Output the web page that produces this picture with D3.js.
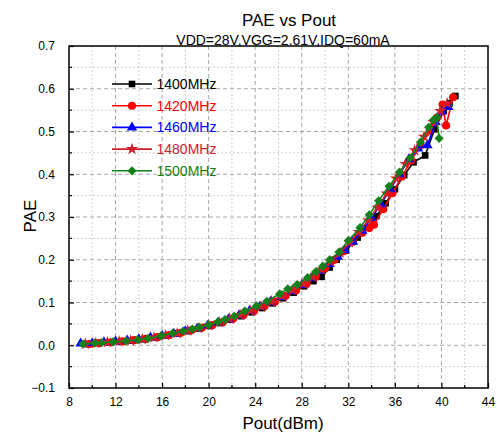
<!DOCTYPE html>
<html><head><meta charset="utf-8">
<script src="https://d3js.org/d3.v7.min.js"></script>
<style>
body{margin:0;background:#fff;}
svg{display:block;font-family:"Liberation Sans",Arial,sans-serif;}
</style></head>
<body><svg id="c" width="497" height="434"></svg>
<script>
const seriesNames = ["1400MHz","1420MHz","1460MHz","1480MHz","1500MHz"];
const seriesColors = ["#000000","#ff0000","#0000ff","#d01e28","#13801a"];
const seriesSymbols = ["square","circle","triangle","star","diamond"];

const x1400 = [9.5,10.5,11.5,12.5,13.5,14.5,15.5,16.5,17.4,18.3,19.2,20.1,21.0,21.9,22.8,23.7,24.6,25.5,26.4,27.3,28.2,29.0,29.7,30.4,31.0,31.8,32.8,33.6,34.4,35.2,36.0,36.8,37.6,38.6,39.4,40.2,40.7,41.2];
const y1400 = [0.003,0.005,0.007,0.009,0.011,0.014,0.018,0.023,0.028,0.033,0.039,0.045,0.052,0.060,0.068,0.077,0.087,0.098,0.110,0.123,0.138,0.150,0.160,0.182,0.200,0.222,0.252,0.275,0.302,0.332,0.365,0.398,0.428,0.444,0.505,0.548,0.566,0.583];

const x1420 = [9.8,10.6,11.6,12.6,13.6,14.6,15.6,16.6,17.6,18.5,19.4,20.3,21.2,22.1,23.0,23.9,24.8,25.7,26.6,27.5,28.4,29.2,30.0,30.8,31.6,32.4,33.2,33.8,34.2,35.0,35.8,36.6,37.4,38.2,39.0,39.6,40.1,40.4,41.0];
const y1420 = [0.003,0.005,0.007,0.009,0.012,0.015,0.019,0.024,0.029,0.035,0.041,0.047,0.054,0.062,0.071,0.080,0.091,0.102,0.115,0.128,0.143,0.160,0.180,0.200,0.220,0.242,0.263,0.274,0.282,0.318,0.356,0.395,0.432,0.468,0.502,0.532,0.563,0.514,0.580];

const x1460 = [9.0,10.0,11.0,12.0,13.0,14.0,15.0,16.0,17.0,18.0,19.0,19.9,20.8,21.7,22.6,23.5,24.4,25.3,26.2,27.1,28.0,28.8,29.6,30.4,31.1,31.7,32.4,33.2,34.0,34.8,35.6,36.4,37.2,38.0,38.8,39.5,40.0,40.6];
const y1460 = [0.004,0.005,0.007,0.009,0.011,0.014,0.018,0.022,0.027,0.033,0.039,0.046,0.053,0.061,0.070,0.080,0.090,0.101,0.113,0.126,0.141,0.157,0.174,0.190,0.207,0.222,0.242,0.268,0.298,0.330,0.365,0.400,0.435,0.460,0.468,0.522,0.547,0.557];

const x1480 = [9.4,10.3,11.3,12.3,13.3,14.3,15.3,16.3,17.3,18.2,19.1,20.0,20.9,21.8,22.7,23.6,24.5,25.4,26.3,27.2,28.1,28.9,29.7,30.5,31.3,32.1,32.9,33.7,34.5,35.3,36.1,36.9,37.7,38.5,39.3,39.9,40.5];
const y1480 = [0.003,0.005,0.007,0.009,0.011,0.014,0.018,0.023,0.028,0.034,0.040,0.047,0.054,0.062,0.071,0.081,0.091,0.103,0.115,0.129,0.144,0.160,0.177,0.195,0.216,0.240,0.265,0.292,0.322,0.355,0.390,0.424,0.456,0.488,0.522,0.548,0.566];

const x1500 = [9.2,10.2,10.8,11.8,12.9,13.9,14.8,15.9,16.9,17.8,18.6,19.2,20.0,20.8,21.4,22.2,23.1,24.1,25.0,26.1,26.8,27.6,28.5,29.2,29.8,30.4,31.2,32.0,33.0,33.8,34.6,35.5,36.4,37.3,38.2,38.9,39.3,39.6,39.8];
const y1500 = [0.003,0.005,0.006,0.008,0.010,0.013,0.016,0.022,0.028,0.033,0.038,0.042,0.048,0.055,0.060,0.068,0.080,0.092,0.103,0.120,0.132,0.142,0.158,0.172,0.185,0.200,0.218,0.245,0.275,0.305,0.338,0.372,0.405,0.438,0.475,0.510,0.527,0.533,0.484];

const xTicks = [8,12,16,20,24,28,32,36,40,44];
const yTicks = [-0.1,0.0,0.1,0.2,0.3,0.4,0.5,0.6,0.7];

const title = "PAE vs Pout";
const subtitle = "VDD=28V,VGG=2.61V,IDQ=60mA";
const xTitle = "Pout(dBm)";
const yTitle = "PAE";

const allX = [x1400,x1420,x1460,x1480,x1500];
const allY = [y1400,y1420,y1460,y1480,y1500];

const svg = d3.select("#c");
const L = 69, R = 488, T = 46, B = 388;
const x = d3.scaleLinear().domain([8,44]).range([L,R]);
const y = d3.scaleLinear().domain([-0.1,0.7]).range([B,T]);

// grid minor
const gx = svg.append("g");
d3.range(10,44,4).forEach(v=>{
  gx.append("line").attr("x1",x(v)).attr("x2",x(v)).attr("y1",T).attr("y2",B)
    .attr("stroke","#cfcfcf").attr("stroke-width",1).attr("stroke-dasharray","2,2");
});
d3.range(-0.05,0.7,0.1).forEach(v=>{
  gx.append("line").attr("x1",L).attr("x2",R).attr("y1",y(v)).attr("y2",y(v))
    .attr("stroke","#cfcfcf").attr("stroke-width",1).attr("stroke-dasharray","2,2");
});
// grid major
xTicks.slice(1,-1).forEach(v=>{
  gx.append("line").attr("x1",x(v)).attr("x2",x(v)).attr("y1",T).attr("y2",B)
    .attr("stroke","#a6a6a6").attr("stroke-width",1).attr("stroke-dasharray","4,3");
});
yTicks.slice(1,-1).forEach(v=>{
  gx.append("line").attr("x1",L).attr("x2",R).attr("y1",y(v)).attr("y2",y(v))
    .attr("stroke","#a6a6a6").attr("stroke-width",1).attr("stroke-dasharray","4,3");
});

// axes
const xAxis = d3.axisBottom(x).tickValues(xTicks).tickSize(-5).tickPadding(9).tickFormat(d3.format("d"));
const xa = svg.append("g").attr("transform",`translate(0,${B})`).call(xAxis);
const yAxis = d3.axisLeft(y).tickValues(yTicks).tickSize(-5).tickPadding(14).tickFormat(d3.format(".1f"));
const ya = svg.append("g").attr("transform",`translate(${L},0)`).call(yAxis);
[xa,ya].forEach(a=>{
  a.select(".domain").remove();
  a.selectAll("line").attr("stroke","#000").attr("stroke-width",1.2);
  a.selectAll("text").attr("font-size",12).attr("fill","#000").attr("font-family","Liberation Sans, Arial, sans-serif");
});
// minor ticks
d3.range(10,44,4).forEach(v=>{
  svg.append("line").attr("x1",x(v)).attr("x2",x(v)).attr("y1",B).attr("y2",B-3).attr("stroke","#000").attr("stroke-width",1.2);
});
d3.range(-0.05,0.7,0.1).forEach(v=>{
  svg.append("line").attr("x1",L).attr("x2",L+3).attr("y1",y(v)).attr("y2",y(v)).attr("stroke","#000").attr("stroke-width",1.2);
});
// frame
svg.append("rect").attr("x",L).attr("y",T).attr("width",R-L).attr("height",B-T)
  .attr("fill","none").attr("stroke","#000").attr("stroke-width",1.5);

// symbols
function symPath(kind){
  if(kind==="square") return d3.symbol(d3.symbolSquare,44)();
  if(kind==="circle") return d3.symbol(d3.symbolCircle,52)();
  if(kind==="triangle") return d3.symbol(d3.symbolTriangle,46)();
  if(kind==="star") return d3.symbol(d3.symbolStar,46)();
  if(kind==="diamond") return d3.symbol(d3.symbolSquare,42)();
}
const line = d3.line().x(d=>x(d[0])).y(d=>y(d[1]));
const plot = svg.append("g");
seriesNames.forEach((name,i)=>{
  const pts = allX[i].map((v,j)=>[v,allY[i][j]]);
  const g = plot.append("g");
  g.append("path").datum(pts).attr("d",line).attr("fill","none")
    .attr("stroke",seriesColors[i]).attr("stroke-width",1.6);
  g.selectAll("path.m").data(pts).join("path").attr("class","m")
    .attr("d",symPath(seriesSymbols[i]))
    .attr("transform",d=>`translate(${x(d[0])},${y(d[1])})`+(seriesSymbols[i]==="diamond"?" rotate(45)":""))
    .attr("fill",seriesColors[i]);
});

// legend
const lg = svg.append("g");
seriesNames.forEach((name,i)=>{
  const yy = 84 + i*21.7;
  lg.append("line").attr("x1",112).attr("x2",152).attr("y1",yy).attr("y2",yy)
    .attr("stroke",seriesColors[i]).attr("stroke-width",1.6);
  lg.append("path").attr("d",symPath(seriesSymbols[i]))
    .attr("transform",`translate(132,${yy})`+(seriesSymbols[i]==="diamond"?" rotate(45)":""))
    .attr("fill",seriesColors[i]);
  lg.append("text").attr("x",156.5).attr("y",yy+5).attr("font-size",14)
    .attr("fill",seriesColors[i]).text(name);
});

// titles
svg.append("text").attr("x",289).attr("y",26).attr("text-anchor","middle").attr("font-size",17).text(title);
svg.append("text").attr("x",283).attr("y",44.5).attr("text-anchor","middle").attr("font-size",14).text(subtitle);
svg.append("text").attr("x",283).attr("y",429).attr("text-anchor","middle").attr("font-size",17).text(xTitle);
svg.append("text").attr("transform","translate(36,216) rotate(-90)").attr("text-anchor","middle").attr("font-size",17).text(yTitle);
</script></body></html>
